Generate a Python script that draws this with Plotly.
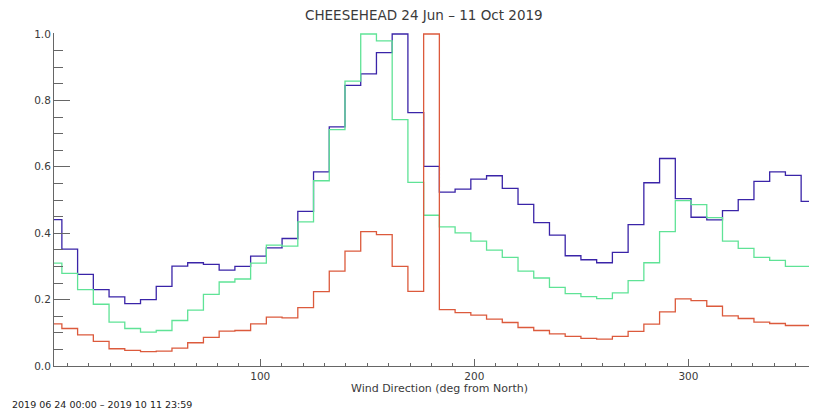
import numpy as np
import plotly.graph_objects as go

# 49 wind-direction bins of 360/49 deg, values at bin centres
n_bins = 49
bin_width = 360.0 / n_bins
direction = [(k + 0.5) * bin_width for k in range(n_bins)]

series_blue = [0.441, 0.352, 0.276, 0.230, 0.208, 0.188, 0.200, 0.240, 0.301, 0.311,
               0.306, 0.289, 0.300, 0.331, 0.356, 0.384, 0.466, 0.585, 0.720, 0.845,
               0.880, 0.944, 1.000, 0.763, 0.601, 0.524, 0.533, 0.563, 0.573, 0.535,
               0.487, 0.432, 0.394, 0.332, 0.320, 0.311, 0.342, 0.426, 0.552, 0.625,
               0.504, 0.448, 0.440, 0.468, 0.501, 0.556, 0.585, 0.574, 0.496]

series_green = [0.310, 0.279, 0.230, 0.186, 0.132, 0.113, 0.102, 0.107, 0.137, 0.168,
                0.216, 0.253, 0.262, 0.310, 0.364, 0.361, 0.434, 0.558, 0.712, 0.858,
                1.000, 0.979, 0.742, 0.553, 0.454, 0.419, 0.401, 0.376, 0.349, 0.327,
                0.286, 0.265, 0.237, 0.218, 0.209, 0.203, 0.220, 0.257, 0.311, 0.405,
                0.498, 0.486, 0.447, 0.376, 0.354, 0.327, 0.318, 0.300, 0.300]

series_red = [0.127, 0.113, 0.094, 0.074, 0.052, 0.047, 0.043, 0.045, 0.054, 0.070,
              0.086, 0.105, 0.107, 0.127, 0.147, 0.145, 0.176, 0.224, 0.286, 0.346,
              0.405, 0.396, 0.300, 0.225, 1.000, 0.170, 0.161, 0.153, 0.141, 0.131,
              0.116, 0.107, 0.097, 0.089, 0.083, 0.081, 0.089, 0.104, 0.126, 0.163,
              0.202, 0.197, 0.180, 0.151, 0.143, 0.132, 0.128, 0.122, 0.122]

x_ticks = [100, 200, 300]
y_ticks = [0.0, 0.2, 0.4, 0.6, 0.8, 1.0]

title_text = "CHEESEHEAD 24 Jun – 11 Oct 2019"
x_title = "Wind Direction (deg from North)"
footer_text = "2019 06 24 00:00 – 2019 10 11 23:59"

W, H = 813, 411
ML, MR, MT, MB = 54, 4, 33, 45
PW = W - ML - MR
PH = H - MT - MB

def px(xp):
    return (xp - ML) / PW

def py(yp):
    return (H - MB - yp) / PH

fig = go.Figure()
for vals, col in [(series_blue, "#3a24a8"), (series_green, "#5fe396"), (series_red, "#dc5a3c")]:
    fig.add_trace(go.Scatter(x=direction, y=vals, mode="lines",
                             line=dict(color=col, width=1.3, shape="hvh"),
                             showlegend=False, hoverinfo="skip"))

axis_col = "#666666"
fig.update_layout(
    width=W, height=H,
    margin=dict(l=ML, r=MR, t=MT, b=MB, pad=0),
    paper_bgcolor="white", plot_bgcolor="white",
    font=dict(family="DejaVu Sans", size=10.5, color="#3a3a3a"),
    xaxis=dict(range=[direction[0], direction[-1]], tickvals=x_ticks,
               ticktext=[str(v) for v in x_ticks],
               showgrid=False, zeroline=False, showline=True, linecolor=axis_col,
               linewidth=1, ticks="inside", ticklen=7, tickcolor=axis_col,
               minor=dict(dtick=10, tick0=0, ticks="inside", ticklen=3.5, tickcolor=axis_col)),
    yaxis=dict(range=[0, 1.003], tickvals=y_ticks,
               ticktext=[f"{v:.1f}" for v in y_ticks],
               showgrid=False, zeroline=False, showline=True, linecolor=axis_col,
               linewidth=1, ticks="inside", ticklen=16, tickcolor=axis_col,
               minor=dict(dtick=0.05, tick0=0, ticks="inside", ticklen=8.5, tickcolor=axis_col)),
)

fig.add_annotation(text=title_text, x=px(424), y=py(15), xref="paper", yref="paper",
                   xanchor="center", yanchor="middle", showarrow=False,
                   font=dict(size=13.5, color="#3a3a3a"))
fig.add_annotation(text=x_title, x=px(439), y=py(389), xref="paper", yref="paper",
                   xanchor="center", yanchor="middle", showarrow=False,
                   font=dict(size=11, color="#3a3a3a"))
fig.add_annotation(text=footer_text, x=px(10), y=py(404), xref="paper", yref="paper",
                   xanchor="left", yanchor="middle", showarrow=False,
                   font=dict(size=9.5, color="#222222"))

fig.write_html("out.html", config={"displayModeBar": False},
               post_script="document.body.style.margin='0';document.body.style.overflow='hidden';")
